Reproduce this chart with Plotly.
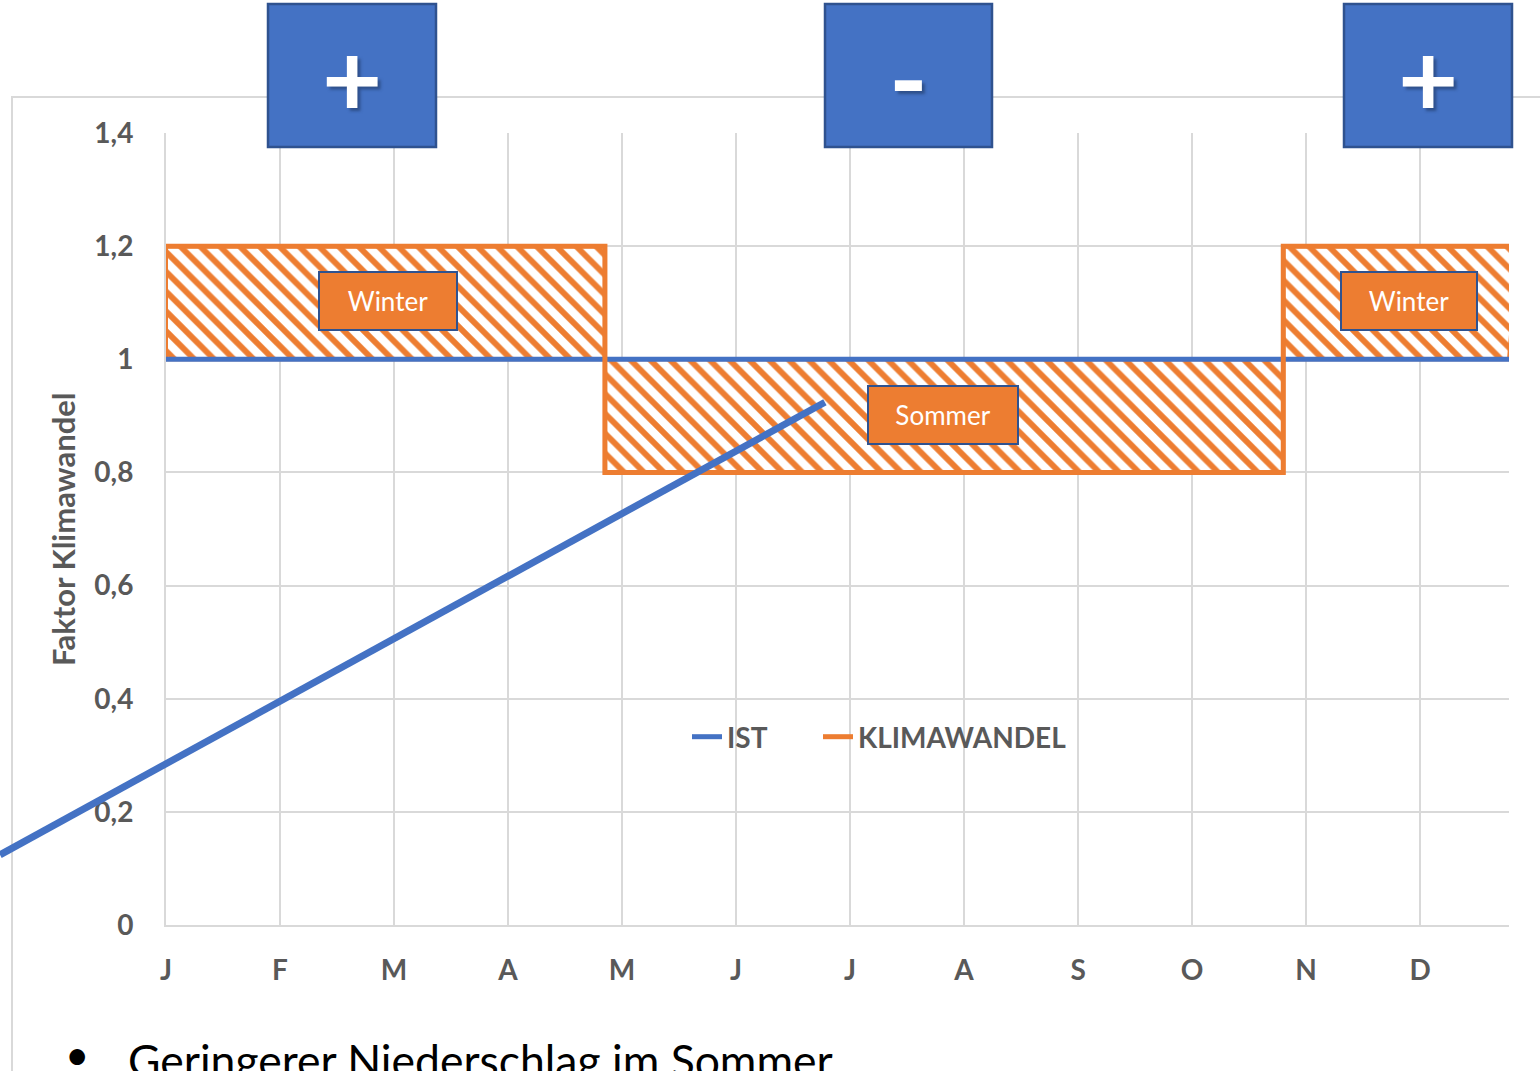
import plotly.graph_objects as go

# ---- data -------------------------------------------------------------
months = ["J", "F", "M", "A", "M", "J", "J", "A", "S", "O", "N", "D"]
month_pos = list(range(12))

# IST: constant factor over the year
ist_x = [0, 11.78]
ist_y = [1, 1]

# KLIMAWANDEL: higher in winter, lower in summer (step profile)
kw_x = [0, 3.85, 3.85, 9.80, 9.80, 11.86]
kw_y = [1.2, 1.2, 0.8, 0.8, 1.2, 1.2]

y_ticks = [0, 0.2, 0.4, 0.6, 0.8, 1.0, 1.2, 1.4]

# season labels (position in month / factor units)
season_text = ["Winter", "Sommer", "Winter"]
season_x = [1.947, 6.816, 10.90]
season_y = [1.103, 0.901, 1.103]
season_w = [136, 148, 134]

# trend arrow endpoints (month, factor)
trend_x = [-1.456, 5.78]
trend_y = [0.124, 0.924]

# sign boxes above the chart
sign_text = ["+", "-", "+"]
sign_left_px = [268, 825, 1344]
sign_right_px = [436, 992, 1512]

# ---- layout geometry ---------------------------------------------------
W, H = 1540, 1071
PX_X0, PX_XSTEP = 166, 114.0
PX_Y0, PX_YTOP = 925, 133
X_MAX = 11.78
Y_MAX = 1.4

BLUE = "#4472C4"
ORANGE = "#ED7D31"
DARK_BLUE = "#2F528F"
GREY_TXT = "#595959"
GRID = "#D9D9D9"
FONT = "Lato"


def px_to_paper_x(p):
    return p / W


def px_to_paper_y(p):
    return 1 - p / H


def data_to_paper(x, y):
    px = PX_X0 + PX_XSTEP * x
    py = PX_Y0 - (PX_Y0 - PX_YTOP) / Y_MAX * y
    return px_to_paper_x(px), px_to_paper_y(py)


fig = go.Figure()

# hatched band between IST and KLIMAWANDEL
poly_x = kw_x + ist_x[::-1] + [kw_x[0]]
poly_y = kw_y + ist_y[::-1] + [kw_y[0]]
fig.add_trace(go.Scatter(
    x=poly_x, y=poly_y, mode="lines", fill="toself",
    line=dict(color=ORANGE, width=4),
    fillcolor="white",
    fillpattern=dict(shape="\\", size=14, solidity=0.42,
                     fgcolor=ORANGE, bgcolor="white", fillmode="replace"),
    showlegend=False, hoverinfo="skip",
))

fig.add_trace(go.Scatter(
    x=ist_x, y=ist_y, mode="lines", name="IST",
    line=dict(color=BLUE, width=5), legend="legend",
))
fig.add_trace(go.Scatter(
    x=kw_x, y=kw_y, mode="lines", name="KLIMAWANDEL",
    line=dict(color=ORANGE, width=5), legend="legend2",
))

shapes = []
annotations = []

# outer chart frame
shapes.append(dict(type="rect", xref="paper", yref="paper",
                   x0=px_to_paper_x(12), x1=px_to_paper_x(1560),
                   y0=px_to_paper_y(1090), y1=px_to_paper_y(97),
                   line=dict(color=GRID, width=2), fillcolor="rgba(0,0,0,0)",
                   layer="below"))

# trend line
tx0, ty0 = data_to_paper(trend_x[0], trend_y[0])
tx1, ty1 = data_to_paper(trend_x[1], trend_y[1])
shapes.append(dict(type="line", xref="paper", yref="paper",
                   x0=tx0, y0=ty0, x1=tx1, y1=ty1,
                   line=dict(color=BLUE, width=7), layer="above"))

# sign boxes
for txt, l, r in zip(sign_text, sign_left_px, sign_right_px):
    shapes.append(dict(type="rect", xref="paper", yref="paper",
                       x0=px_to_paper_x(l), x1=px_to_paper_x(r),
                       y0=px_to_paper_y(147), y1=px_to_paper_y(4),
                       fillcolor=BLUE, line=dict(color=DARK_BLUE, width=2.5),
                       layer="above"))
    annotations.append(dict(
        text=f"<b>{txt}</b>", xref="paper", yref="paper",
        x=px_to_paper_x((l + r) / 2), y=px_to_paper_y(77 if txt == "+" else 77),
        xanchor="center", yanchor="middle", showarrow=False,
        font=dict(family=FONT, size=104, color="white", weight=900,
                  shadow="3px 3px 3px rgba(31,56,100,0.6)"),
    ))

# season labels
for txt, sx, sy, sw in zip(season_text, season_x, season_y, season_w):
    annotations.append(dict(
        text=txt, x=sx, y=sy, xref="x", yref="y",
        xanchor="center", yanchor="middle", showarrow=False,
        width=sw, height=56, align="center", valign="middle",
        bgcolor=ORANGE, bordercolor=DARK_BLUE, borderwidth=2, borderpad=0,
        font=dict(family=FONT, size=26, color="white"),
    ))

# y-axis title
annotations.append(dict(
    text="<b>Faktor Klimawandel</b>", xref="paper", yref="paper",
    x=px_to_paper_x(63), y=px_to_paper_y(529), textangle=-90,
    xanchor="center", yanchor="middle", showarrow=False,
    font=dict(family=FONT, size=31, color=GREY_TXT),
))

# bullet text below chart
annotations.append(dict(
    text="•", xref="paper", yref="paper",
    x=px_to_paper_x(77), y=px_to_paper_y(1054),
    xanchor="center", yanchor="middle", showarrow=False,
    font=dict(family=FONT, size=42, color="black"),
))
annotations.append(dict(
    text="Geringerer Niederschlag im Sommer", xref="paper", yref="paper",
    x=px_to_paper_x(126), y=px_to_paper_y(1059),
    xanchor="left", yanchor="middle", showarrow=False,
    font=dict(family=FONT, size=44.5, color="black"),
))

legend_font = dict(family=FONT, size=28, color=GREY_TXT, weight="bold")

fig.update_layout(
    width=W, height=H,
    margin=dict(l=0, r=0, t=0, b=0, autoexpand=False),
    paper_bgcolor="white", plot_bgcolor="white",
    separators=",.",
    font=dict(family=FONT, color=GREY_TXT),
    showlegend=True,
    legend=dict(orientation="h", x=px_to_paper_x(687), y=px_to_paper_y(737),
                xanchor="left", yanchor="middle",
                font=legend_font, bgcolor="rgba(0,0,0,0)"),
    legend2=dict(orientation="h", x=px_to_paper_x(818), y=px_to_paper_y(737),
                 xanchor="left", yanchor="middle",
                 font=legend_font, bgcolor="rgba(0,0,0,0)"),
    xaxis=dict(
        domain=[px_to_paper_x(PX_X0), px_to_paper_x(1509)],
        range=[0, X_MAX], tickvals=month_pos, ticktext=months,
        showgrid=True, gridcolor=GRID, gridwidth=2,
        showline=True, linecolor=GRID, linewidth=2,
        zeroline=False, ticks="", ticklabelstandoff=19,
        tickfont=dict(family=FONT, size=28, color=GREY_TXT, weight="bold"),
    ),
    yaxis=dict(
        domain=[px_to_paper_y(PX_Y0), px_to_paper_y(PX_YTOP)],
        range=[0, Y_MAX], tickvals=y_ticks,
        showgrid=True, gridcolor=GRID, gridwidth=2,
        showline=True, linecolor=GRID, linewidth=2,
        zeroline=False, ticks="", ticklabelstandoff=25,
        tickfont=dict(family=FONT, size=28, color=GREY_TXT, weight="bold"),
    ),
    shapes=shapes,
    annotations=annotations,
)

fig.write_html("out.html")
